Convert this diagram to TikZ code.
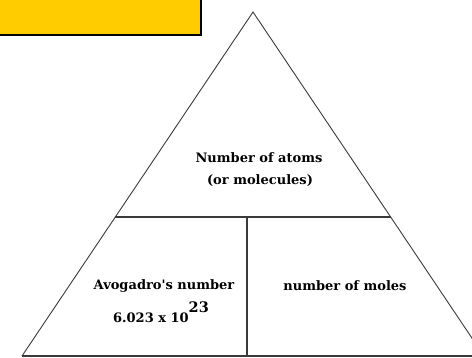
\documentclass[tikz,border=0pt]{standalone}
\usepackage{fontspec}
\setmainfont{DejaVu Serif}
\usepackage{tikz}
\usetikzlibrary{calc}
\definecolor{boxyellow}{HTML}{FFCC00}
\definecolor{edgegrey}{HTML}{3A3A3A}

\begin{document}
\begin{tikzpicture}[x=1pt,y=-1pt,
    label/.style={font=\bfseries\fontsize{13}{16}\selectfont,inner sep=0pt,anchor=base},
    edge/.style={draw=edgegrey,line width=0.9pt}]
      \useasboundingbox (0,0) rectangle (472,358);
      \draw[fill=boxyellow,line width=2.5pt](-5,-5) rectangle (201,35);
      % triangle corners
      \coordinate (apex) at (253,12);
      \coordinate (bl) at (22,356);
      \coordinate (br) at (484,356);
      \coordinate (ml) at ($(apex)!0.596!(bl)$);
      \coordinate (mr) at ($(apex)!0.596!(br)$);
      \coordinate (mid) at (247,0 |- ml);
      \coordinate (bm) at (mid |- bl);
      \draw[edge](bl)--(apex)--(br);
      \draw[edge,line width=1.4pt](bl)--(br);
      \draw[edge,line width=1.3pt](ml)--(mr);
      \draw[edge,line width=1.2pt](mid)--(bm);
      \node[label] (atoms) at (259,163) {Number of atoms};
      \node[label] (molec) at (260,185) {(or molecules)};
      \node[label] (avog) at (164,290) {Avogadro\textquotesingle s number};
      \node[label] (const) at (161,323) {6.023 x 10\raisebox{10pt}{\fontsize{14.5}{16}\selectfont 23}};
      \node[label] (moles) at (345,291) {number of moles};
    \end{tikzpicture}
\end{document}
